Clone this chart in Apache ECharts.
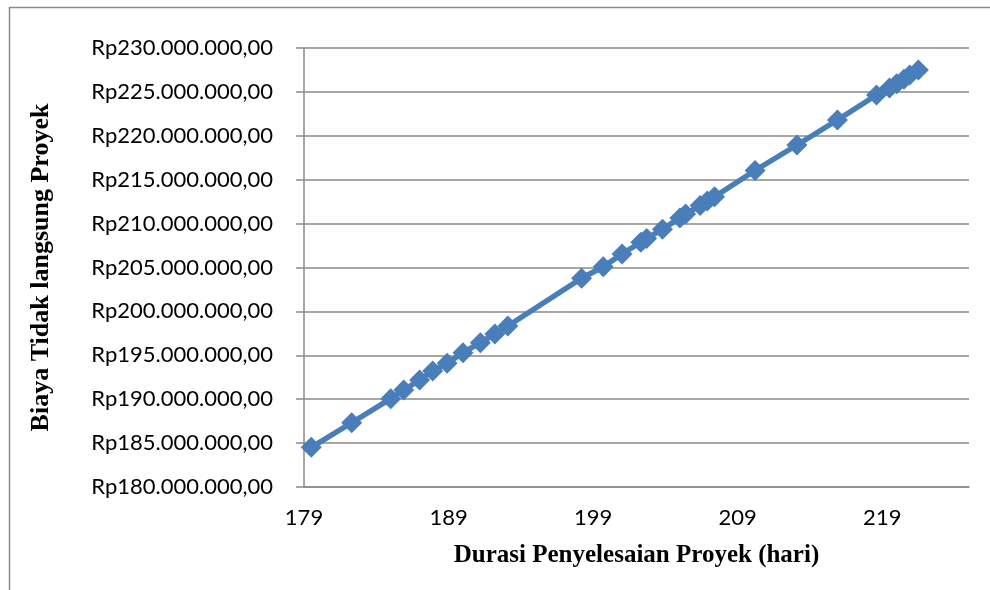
<!DOCTYPE html>
<html>
<head>
<meta charset="utf-8">
<script src="https://cdn.jsdelivr.net/npm/echarts@6/dist/echarts.min.js"></script>
<style>
  html, body { margin: 0; padding: 0; background: #ffffff; }
  #chart { width: 990px; height: 590px; }
</style>
</head>
<body>
<div id="chart"></div>
<script>
// Durasi penyelesaian proyek (hari)
const durasi = [179.5, 182.3, 185.0, 185.9, 187.0, 187.9, 188.9, 190.0, 191.2, 192.2, 193.1,
                198.2, 199.7, 201.0, 202.3, 202.7, 203.8, 205.0, 205.4, 206.4, 206.9, 207.4,
                210.2, 213.1, 215.9, 218.6, 219.5, 220.0, 220.5, 220.9, 221.5];
// Biaya tidak langsung proyek (Rp)
const biaya = [184520000, 187320000, 190060000, 191050000, 192190000, 193210000, 194090000,
               195300000, 196440000, 197430000, 198340000, 203770000, 205090000, 206540000,
               207880000, 208310000, 209350000, 210650000, 211080000, 212070000, 212560000,
               213060000, 216050000, 218950000, 221800000, 224650000, 225440000, 225930000,
               226440000, 226920000, 227490000];
// Axis ticks
const xTicks = [179, 189, 199, 209, 219];
const xMax = 225;
const yTicks = [180000000, 185000000, 190000000, 195000000, 200000000, 205000000,
                210000000, 215000000, 220000000, 225000000, 230000000];
const xTitle = 'Durasi Penyelesaian Proyek (hari)';
const yTitle = 'Biaya Tidak langsung Proyek';

function rupiah(v) {
  return 'Rp' + Math.round(v).toString().replace(/\B(?=(\d{3})+(?!\d))/g, '.') + ',00';
}

const points = durasi.map((d, i) => [d, biaya[i]]);
const gridColor = '#8a8a8a';
const labelFont = 'Lato';

const chart = echarts.init(document.getElementById('chart'), null, { renderer: 'canvas' });
chart.setOption({
  animation: false,
  backgroundColor: '#ffffff',
  graphic: [{
    type: 'rect',
    shape: { x: 9.5, y: 7.5, width: 1100, height: 800 },
    style: { fill: 'none', stroke: '#8c8c8c', lineWidth: 1.5 },
    silent: true
  }],
  grid: { left: 304, right: 21, top: 48, bottom: 103, containLabel: false },
  xAxis: {
    type: 'value',
    min: xTicks[0],
    max: xMax,
    interval: xTicks[1] - xTicks[0],
    name: xTitle,
    nameLocation: 'middle',
    nameGap: 56,
    nameTextStyle: { fontFamily: 'Liberation Serif', fontWeight: 'bold', fontSize: 25, color: '#000' },
    axisLine: { show: true, onZero: false, lineStyle: { color: gridColor, width: 1.5 } },
    axisTick: { show: false },
    splitLine: { show: false },
    axisLabel: {
      showMaxLabel: false,
      margin: 20,
      fontFamily: labelFont,
      fontSize: 22,
      color: '#000',
      formatter: v => String(v)
    }
  },
  yAxis: {
    type: 'value',
    min: yTicks[0],
    max: yTicks[yTicks.length - 1],
    interval: yTicks[1] - yTicks[0],
    name: yTitle,
    nameLocation: 'middle',
    nameGap: 250,
    nameTextStyle: { fontFamily: 'Liberation Serif', fontWeight: 'bold', fontSize: 26, color: '#000' },
    axisLine: { show: true, onZero: false, lineStyle: { color: gridColor, width: 1.5 } },
    axisTick: { show: true, inside: false, length: 8, lineStyle: { color: gridColor, width: 1.5 } },
    splitLine: { show: true, lineStyle: { color: gridColor, width: 1.5 } },
    axisLabel: {
      margin: 31,
      fontFamily: labelFont,
      fontSize: 22,
      color: '#000',
      formatter: v => rupiah(v)
    }
  },
  series: [{
    type: 'line',
    data: points,
    symbol: 'diamond',
    symbolSize: [21, 21],
    showAllSymbol: true,
    lineStyle: { color: '#4a7ebb', width: 5.5 },
    itemStyle: { color: '#4a7ebb', borderWidth: 0 },
    z: 3
  }]
});
</script>
</body>
</html>
